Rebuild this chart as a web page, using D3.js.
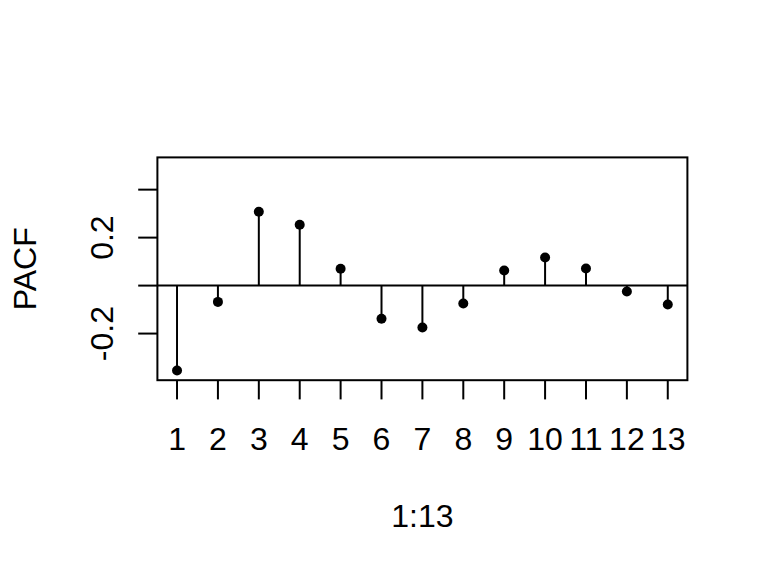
<!DOCTYPE html>
<html>
<head>
<meta charset="utf-8">
<script src="https://cdn.jsdelivr.net/npm/d3@7"></script>
<style>
  body { margin: 0; background: #fff; }
  svg { display: block; }
  text { font-family: "Liberation Sans", Arial, sans-serif; font-size: 32px; fill: #000; }
</style>
</head>
<body>
<div id="chart"></div>
<script>
// lags and partial autocorrelations
const lags = [1, 2, 3, 4, 5, 6, 7, 8, 9, 10, 11, 12, 13];
const pacf = [-0.354, -0.068, 0.308, 0.254, 0.070, -0.138, -0.175, -0.075, 0.063, 0.117, 0.071, -0.025, -0.079];

const yTicks = [-0.2, 0, 0.2, 0.4];
const yTickLabels = ["-0.2", "", "0.2", ""];   // R drops the overlapping ones
const xTickLabels = lags.map(String);

const width = 768;
const height = 576;
const lineH = 38.4;   // one margin line
const margin = { top: 157.4, right: 80.6, bottom: 195.8, left: 157.4 };

const svg = d3.select("#chart").append("svg")
    .attr("width", width)
    .attr("height", height);

const plotW = width - margin.left - margin.right;
const plotH = height - margin.top - margin.bottom;

// R style 4% padding on the limits
const xlim = [1, 13], ylim = [-0.36, 0.5];
const xr = xlim[1] - xlim[0], yr = ylim[1] - ylim[0];

const x = d3.scaleLinear()
    .domain([xlim[0] - 0.04 * xr, xlim[1] + 0.04 * xr])
    .range([margin.left, margin.left + plotW]);

const y = d3.scaleLinear()
    .domain([ylim[0] - 0.04 * yr, ylim[1] + 0.04 * yr])
    .range([margin.top + plotH, margin.top]);

const g = svg.append("g");

// zero line, clipped to the plot box
g.append("line")
    .attr("x1", margin.left).attr("x2", margin.left + plotW)
    .attr("y1", y(0)).attr("y2", y(0))
    .attr("stroke", "#000").attr("stroke-width", 2);

// stems
g.selectAll(".stem")
    .data(lags)
    .enter()
    .append("line")
    .attr("class", "stem")
    .attr("x1", d => x(d)).attr("x2", d => x(d))
    .attr("y1", y(0))
    .attr("y2", (d, i) => y(pacf[i]))
    .attr("stroke", "#000").attr("stroke-width", 2);

// points
g.selectAll(".pt")
    .data(lags)
    .enter()
    .append("circle")
    .attr("class", "pt")
    .attr("cx", d => x(d))
    .attr("cy", (d, i) => y(pacf[i]))
    .attr("r", 5)
    .attr("fill", "#000");

// box
svg.append("rect")
    .attr("x", margin.left).attr("y", margin.top)
    .attr("width", plotW).attr("height", plotH)
    .attr("fill", "none").attr("stroke", "#000").attr("stroke-width", 2);

const tickLen = lineH / 2;

// x axis
const xAxis = svg.append("g").attr("transform", `translate(0,${margin.top + plotH})`);
xAxis.selectAll("line")
    .data(lags)
    .enter()
    .append("line")
    .attr("x1", d => x(d)).attr("x2", d => x(d))
    .attr("y1", 0).attr("y2", tickLen)
    .attr("stroke", "#000").attr("stroke-width", 2);
xAxis.selectAll("text")
    .data(lags)
    .enter()
    .append("text")
    .attr("x", d => x(d))
    .attr("y", 70)
    .attr("text-anchor", "middle")
    .text((d, i) => xTickLabels[i]);

// y axis
const yAxis = svg.append("g").attr("transform", `translate(${margin.left},0)`);
yAxis.selectAll("line")
    .data(yTicks)
    .enter()
    .append("line")
    .attr("x1", 0).attr("x2", -tickLen)
    .attr("y1", d => y(d)).attr("y2", d => y(d))
    .attr("stroke", "#000").attr("stroke-width", 2);
yAxis.selectAll("text")
    .data(yTicks)
    .enter()
    .append("text")
    .attr("transform", d => `translate(-44,${y(d)}) rotate(-90)`)
    .attr("text-anchor", "middle")
    .text((d, i) => yTickLabels[i]);

// axis titles
svg.append("text")
    .attr("x", margin.left + plotW / 2)
    .attr("y", 527)
    .attr("text-anchor", "middle")
    .text("1:13");

svg.append("text")
    .attr("transform", `translate(36,${margin.top + plotH / 2}) rotate(-90)`)
    .attr("text-anchor", "middle")
    .text("PACF");
</script>
</body>
</html>
